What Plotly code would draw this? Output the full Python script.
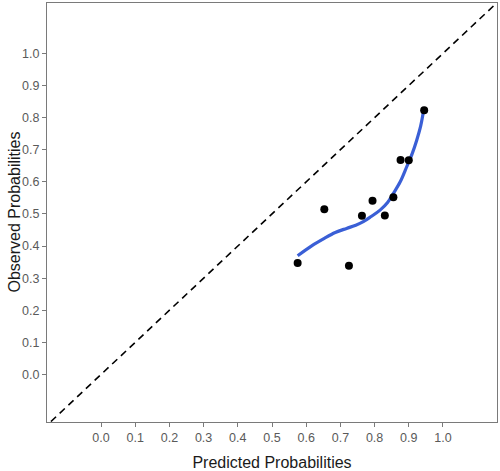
import plotly.graph_objects as go

# observed points
pred = [0.575, 0.653, 0.725, 0.763, 0.794, 0.830, 0.855, 0.876, 0.900, 0.945]
obs = [0.347, 0.515, 0.339, 0.494, 0.541, 0.495, 0.552, 0.668, 0.667, 0.823]

# smooth (loess) curve
smooth_x = [0.575, 0.615, 0.653, 0.685, 0.718, 0.745, 0.767, 0.790, 0.816, 0.838, 0.855, 0.875, 0.894, 0.910, 0.923, 0.935, 0.945]
smooth_y = [0.370, 0.400, 0.424, 0.442, 0.455, 0.465, 0.476, 0.492, 0.512, 0.536, 0.564, 0.600, 0.647, 0.688, 0.729, 0.775, 0.833]

diag = [-0.3, 1.3]
ticks = [round(i * 0.1, 1) for i in range(11)]

title_font = dict(family="Liberation Sans, Arial, sans-serif", size=16, color="#1a1a1a")

fig = go.Figure()
fig.add_trace(go.Scatter(x=diag, y=diag, mode="lines",
                         line=dict(color="black", width=1.6, dash="7px,5px"),
                         hoverinfo="skip", showlegend=False))
fig.add_trace(go.Scatter(x=smooth_x, y=smooth_y, mode="lines",
                         line=dict(color="#3a5fd6", width=3.2, shape="spline", smoothing=1.0),
                         showlegend=False))
fig.add_trace(go.Scatter(x=pred, y=obs, mode="markers",
                         marker=dict(color="black", size=8),
                         showlegend=False))

axis_common = dict(
    tickvals=ticks, tickformat=".1f", automargin=False,
    showline=True, mirror=True, linecolor="#7a7a7a", linewidth=1.2,
    ticks="outside", ticklen=4, tickcolor="#7a7a7a", tickwidth=1.2,
    showgrid=False, zeroline=False,
    tickfont=dict(family="Liberation Sans, Arial, sans-serif", size=12.5, color="#5a5a5a"),
)

fig.update_layout(
    width=500, height=471,
    margin=dict(l=47, r=3, t=3, b=49),
    plot_bgcolor="white", paper_bgcolor="white",
    xaxis=dict(range=[-0.158, 1.158],
               title=dict(text="Predicted Probabilities", font=title_font),
               **axis_common),
    yaxis=dict(range=[-0.148, 1.157], **axis_common),
    annotations=[dict(text="Observed Probabilities", textangle=-90, font=title_font,
                      xref="paper", yref="paper", x=0, y=0.5,
                      xanchor="center", yanchor="middle", xshift=-33, showarrow=False)],
)

fig.write_html("out.html", post_script="document.body.style.margin='0';",
               config={"displayModeBar": False})
